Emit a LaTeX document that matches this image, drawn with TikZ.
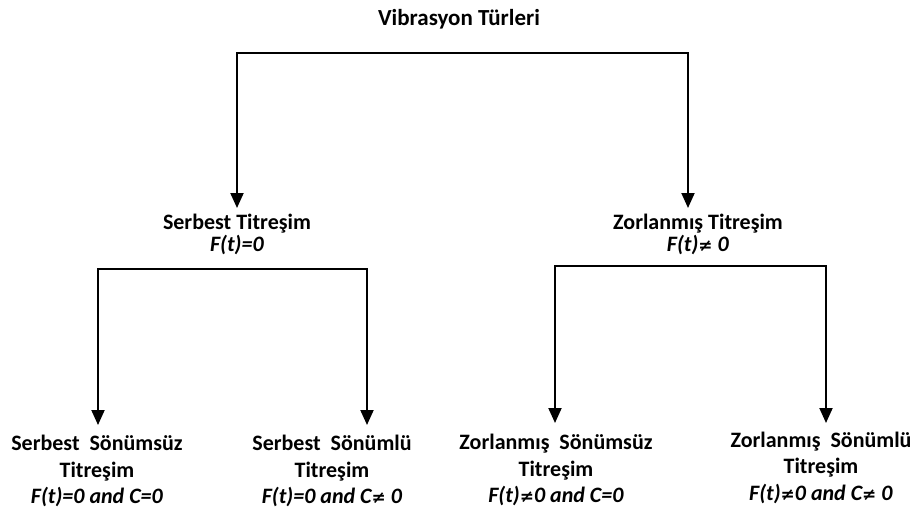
\documentclass[tikz,border=0pt]{standalone}
\usepackage{fontspec}
\setmainfont{Carlito}
\newfontfamily\symfont{DejaVu Sans}
\newcommand{\neqsym}{{\symfont\fontsize{17}{20}\selectfont ≠}}
\usetikzlibrary{arrows.meta}
\begin{document}
\begin{tikzpicture}[x=1pt,y=-1pt,
  lab/.style={font=\bfseries\fontsize{22}{26.5}\selectfont, align=center, inner sep=0pt},
  midlab/.style={lab, font=\bfseries\fontsize{22}{22}\selectfont},
  conn/.style={line width=2pt, line cap=rect},
  arr/.style={line width=2pt, -{Triangle[width=13pt,length=15pt]}}]
\useasboundingbox (0,0) rectangle (913,514);
% texts
\node[lab, font=\bfseries\fontsize{23}{26}\selectfont] (title) at (459,19) {Vibrasyon Türleri};
\node[midlab] (serb) at (237,234) {Serbest Titreşim\\\textit{F(t)=0}};
\node[midlab] (zorl) at (698,234) {Zorlanmış Titreşim\\\textit{F(t)\neqsym\ 0}};
\node[lab] (ss) at (97,471) {Serbest\ \ Sönümsüz\\Titreşim\\\textit{F(t)=0 and C=0}};
\node[lab] (sl) at (332,471) {Serbest\ \ Sönümlü\\Titreşim\\\textit{F(t)=0 and C\neqsym\ 0}};
\node[lab] (zs) at (556,470) {Zorlanmış\ \ Sönümsüz\\Titreşim\\\textit{F(t)\neqsym0 and C=0}};
\node[lab] (zl) at (821,467.5) {Zorlanmış\ \ Sönümlü\\Titreşim\\\textit{F(t)\neqsym0 and C\neqsym\ 0}};
% junction points
\coordinate (b1l) at (237,52.5);
\coordinate (b1r) at (688,52.5);
\coordinate (a1l) at (237,208);
\coordinate (a1r) at (688,208);
\coordinate (b2l) at (98,268.5);
\coordinate (b2r) at (367,268.5);
\coordinate (a2l) at (98,425);
\coordinate (a2r) at (367,425);
\coordinate (b3l) at (555,265.5);
\coordinate (b3r) at (826,265.5);
\coordinate (a3l) at (555,423);
\coordinate (a3r) at (826,423);
% connectors
\draw[conn] (b1l) -- (b1r);
\draw[arr] (b1l) -- (a1l);
\draw[arr] (b1r) -- (a1r);
\draw[conn] (b2l) -- (b2r);
\draw[arr] (b2l) -- (a2l);
\draw[arr] (b2r) -- (a2r);
\draw[conn] (b3l) -- (b3r);
\draw[arr] (b3l) -- (a3l);
\draw[arr] (b3r) -- (a3r);
\end{tikzpicture}
\end{document}
